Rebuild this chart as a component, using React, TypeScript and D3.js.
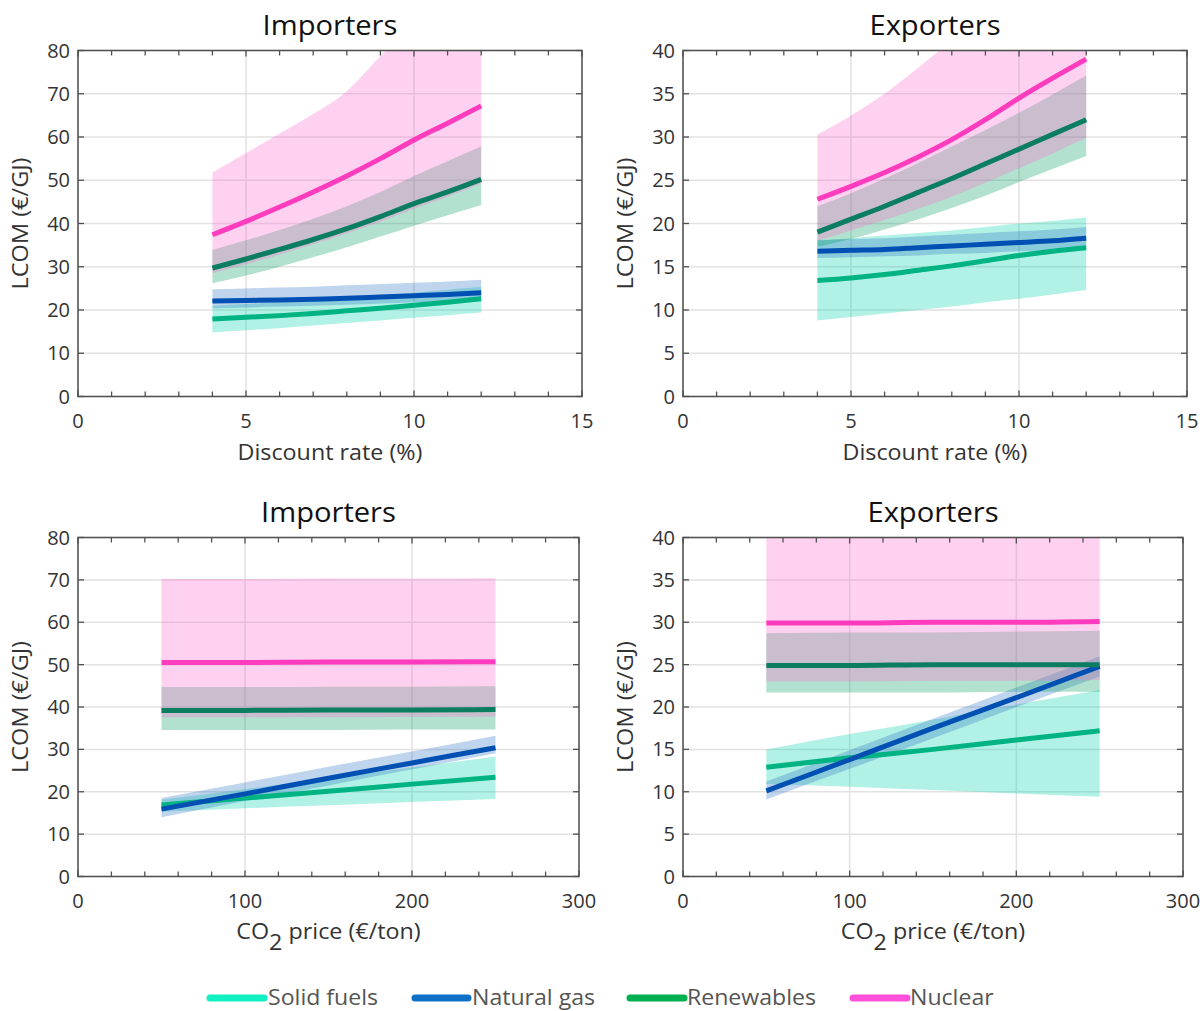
import React from "react";
import * as d3 from "d3";

// ---------- DATA ----------
const discountRates = [4, 5, 6, 7, 8, 9, 10, 11, 12];
const co2Prices = [50, 100, 150, 200, 250];

// Importers vs discount rate
const impSolidDR = [17.9, 18.3, 18.7, 19.2, 19.8, 20.4, 21.1, 21.8, 22.6];
const impSolidDRLo = [14.8, 15.3, 15.8, 16.4, 17.0, 17.6, 18.2, 18.8, 19.4];
const impSolidDRHi = [21.0, 21.4, 21.8, 22.3, 22.8, 23.4, 24.0, 24.7, 25.4];
const impGasDR = [22.1, 22.2, 22.3, 22.5, 22.7, 23.0, 23.3, 23.6, 24.0];
const impGasDRLo = [20.4, 20.6, 20.8, 21.0, 21.2, 21.5, 21.8, 22.1, 22.5];
const impGasDRHi = [24.8, 25.0, 25.2, 25.4, 25.7, 26.0, 26.3, 26.6, 27.0];
const impRenewDR = [29.7, 31.8, 34.0, 36.3, 38.8, 41.6, 44.6, 47.3, 50.2];
const impRenewDRLo = [26.2, 28.0, 30.0, 32.2, 34.5, 37.0, 39.5, 41.9, 44.3];
const impRenewDRHi = [33.9, 36.1, 38.5, 41.1, 44.0, 47.3, 51.0, 54.4, 57.8];
const impNuclearDR = [37.4, 40.5, 43.8, 47.3, 51.0, 55.0, 59.3, 63.2, 67.2];
const impNuclearDRLo = [28.5, 30.6, 32.8, 35.2, 37.7, 40.4, 43.4, 46.2, 49.2];
const impNuclearDRHi = [51.8, 56.3, 60.8, 65.3, 70.6, 78.7, 87.0, 95.0, 103.0];

// Exporters vs discount rate
const expSolidDR = [13.4, 13.7, 14.1, 14.6, 15.1, 15.7, 16.3, 16.8, 17.2];
const expSolidDRLo = [8.8, 9.2, 9.6, 10.0, 10.4, 10.9, 11.3, 11.8, 12.3];
const expSolidDRHi = [18.0, 18.3, 18.6, 18.9, 19.2, 19.6, 20.0, 20.3, 20.7];
const expGasDR = [16.8, 16.9, 17.0, 17.2, 17.4, 17.6, 17.8, 18.0, 18.3];
const expGasDRLo = [16.0, 16.1, 16.2, 16.3, 16.5, 16.6, 16.8, 16.9, 17.1];
const expGasDRHi = [18.1, 18.2, 18.3, 18.5, 18.7, 18.9, 19.1, 19.3, 19.6];
const expRenewDR = [19.0, 20.5, 22.0, 23.6, 25.2, 26.9, 28.6, 30.3, 32.0];
const expRenewDRLo = [17.3, 18.2, 19.3, 20.5, 21.8, 23.2, 24.8, 26.3, 27.8];
const expRenewDRHi = [22.0, 23.5, 25.2, 27.0, 28.9, 30.8, 32.8, 34.9, 37.1];
const expNuclearDR = [22.8, 24.3, 25.9, 27.7, 29.7, 32.0, 34.5, 36.8, 39.0];
const expNuclearDRLo = [18.0, 19.2, 20.4, 21.7, 23.1, 24.7, 26.4, 28.1, 29.9];
const expNuclearDRHi = [30.3, 32.5, 35.0, 38.0, 41.2, 44.5, 48.0, 51.5, 55.0];

// Importers vs CO2 price
const impSolidCO2 = [16.9, 18.5, 20.1, 21.8, 23.4];
const impSolidCO2Lo = [15.3, 16.1, 16.8, 17.6, 18.3];
const impSolidCO2Hi = [18.1, 20.6, 23.2, 25.7, 28.3];
const impGasCO2 = [15.9, 19.5, 23.2, 26.8, 30.4];
const impGasCO2Lo = [14.0, 17.8, 21.5, 25.3, 29.1];
const impGasCO2Hi = [18.5, 22.2, 25.9, 29.5, 33.2];
const impRenewCO2 = [39.2, 39.2, 39.3, 39.3, 39.4];
const impRenewCO2Lo = [34.6, 34.6, 34.6, 34.7, 34.7];
const impRenewCO2Hi = [44.7, 44.7, 44.8, 44.8, 44.9];
const impNuclearCO2 = [50.5, 50.5, 50.6, 50.6, 50.7];
const impNuclearCO2Lo = [37.6, 37.6, 37.6, 37.7, 37.7];
const impNuclearCO2Hi = [70.2, 70.2, 70.3, 70.3, 70.4];

// Exporters vs CO2 price
const expSolidCO2 = [12.9, 14.0, 15.0, 16.1, 17.2];
const expSolidCO2Lo = [10.9, 10.6, 10.2, 9.8, 9.4];
const expSolidCO2Hi = [15.0, 16.8, 18.5, 20.3, 22.0];
const expGasCO2 = [10.1, 13.8, 17.5, 21.1, 24.8];
const expGasCO2Lo = [9.1, 12.7, 16.3, 20.0, 23.6];
const expGasCO2Hi = [11.2, 14.9, 18.6, 22.3, 26.0];
const expRenewCO2 = [24.9, 24.9, 25.0, 25.0, 25.0];
const expRenewCO2Lo = [21.7, 21.7, 21.7, 21.8, 21.8];
const expRenewCO2Hi = [28.7, 28.8, 28.8, 28.9, 29.0];
const expNuclearCO2 = [29.9, 29.9, 30.0, 30.0, 30.1];
const expNuclearCO2Lo = [23.0, 23.0, 23.1, 23.1, 23.2];
const expNuclearCO2Hi = [45.0, 45.0, 45.0, 45.0, 45.0];

const technologies = ["Solid fuels", "Natural gas", "Renewables", "Nuclear"];
const panelTitles = ["Importers", "Exporters", "Importers", "Exporters"];
const discountTicks = [0, 5, 10, 15];
const co2Ticks = [0, 100, 200, 300];

// ---------- STYLE ----------
const lineColors = ["#00b383", "#0050b4", "#0b7d60", "#ff3cbe"];
const bandColors = ["#00d2a8", "#2a72c4", "#00a060", "#ff66cc"];
const legendColors = ["#10f0c0", "#1070c8", "#00b050", "#ff50dc"];
const FONT = "'Open Sans', Lato, sans-serif";

type Series = { xs: number[]; mid: number[]; lo: number[]; hi: number[] };

type PanelCfg = {
  id: string;
  left: number;
  right: number;
  top: number;
  bottom: number;
  xDomain: [number, number];
  xTicks: number[];
  xMinorStep: number;
  yDomain: [number, number];
  yStep: number;
  title: string;
  xLabel: "dr" | "co2";
  series: Series[];
};

function mk(xs: number[], mid: number[], lo: number[], hi: number[]): Series {
  return { xs, mid, lo, hi };
}

const panels: PanelCfg[] = [
  {
    id: "p1", left: 78, right: 582, top: 50.5, bottom: 396.5,
    xDomain: [0, 15], xTicks: discountTicks, xMinorStep: 1,
    yDomain: [0, 80], yStep: 10, title: panelTitles[0], xLabel: "dr",
    series: [
      mk(discountRates, impSolidDR, impSolidDRLo, impSolidDRHi),
      mk(discountRates, impGasDR, impGasDRLo, impGasDRHi),
      mk(discountRates, impRenewDR, impRenewDRLo, impRenewDRHi),
      mk(discountRates, impNuclearDR, impNuclearDRLo, impNuclearDRHi),
    ],
  },
  {
    id: "p2", left: 683, right: 1187, top: 50.5, bottom: 396.5,
    xDomain: [0, 15], xTicks: discountTicks, xMinorStep: 1,
    yDomain: [0, 40], yStep: 5, title: panelTitles[1], xLabel: "dr",
    series: [
      mk(discountRates, expSolidDR, expSolidDRLo, expSolidDRHi),
      mk(discountRates, expGasDR, expGasDRLo, expGasDRHi),
      mk(discountRates, expRenewDR, expRenewDRLo, expRenewDRHi),
      mk(discountRates, expNuclearDR, expNuclearDRLo, expNuclearDRHi),
    ],
  },
  {
    id: "p3", left: 78, right: 579, top: 537.5, bottom: 876.5,
    xDomain: [0, 300], xTicks: co2Ticks, xMinorStep: 20,
    yDomain: [0, 80], yStep: 10, title: panelTitles[2], xLabel: "co2",
    series: [
      mk(co2Prices, impSolidCO2, impSolidCO2Lo, impSolidCO2Hi),
      mk(co2Prices, impGasCO2, impGasCO2Lo, impGasCO2Hi),
      mk(co2Prices, impRenewCO2, impRenewCO2Lo, impRenewCO2Hi),
      mk(co2Prices, impNuclearCO2, impNuclearCO2Lo, impNuclearCO2Hi),
    ],
  },
  {
    id: "p4", left: 683, right: 1183, top: 537.5, bottom: 876.5,
    xDomain: [0, 300], xTicks: co2Ticks, xMinorStep: 20,
    yDomain: [0, 40], yStep: 5, title: panelTitles[3], xLabel: "co2",
    series: [
      mk(co2Prices, expSolidCO2, expSolidCO2Lo, expSolidCO2Hi),
      mk(co2Prices, expGasCO2, expGasCO2Lo, expGasCO2Hi),
      mk(co2Prices, expRenewCO2, expRenewCO2Lo, expRenewCO2Hi),
      mk(co2Prices, expNuclearCO2, expNuclearCO2Lo, expNuclearCO2Hi),
    ],
  },
];

function Panel({ cfg }: { cfg: PanelCfg }) {
  const x = d3.scaleLinear().domain(cfg.xDomain).range([cfg.left, cfg.right]);
  const y = d3.scaleLinear().domain(cfg.yDomain).range([cfg.bottom, cfg.top]);
  const yTicks = d3.range(cfg.yDomain[0], cfg.yDomain[1] + 0.001, cfg.yStep);
  const xMinor = d3.range(cfg.xDomain[0], cfg.xDomain[1] + 0.001, cfg.xMinorStep);
  const cx = (cfg.left + cfg.right) / 2;
  const cy = (cfg.top + cfg.bottom) / 2;
  const clipId = `clip-${cfg.id}`;
  const axisColor = "#505050";
  const gridColor = "#e2e2e2";

  const areaFor = (s: Series) =>
    d3
      .area<number>()
      .x((_, i) => x(s.xs[i]))
      .y0((_, i) => y(s.lo[i]))
      .y1((_, i) => y(s.hi[i]))
      .curve(d3.curveMonotoneX)(s.mid) || "";
  const lineFor = (s: Series) =>
    d3
      .line<number>()
      .x((_, i) => x(s.xs[i]))
      .y((d) => y(d))
      .curve(d3.curveMonotoneX)(s.mid) || "";

  return (
    <g>
      <defs>
        <clipPath id={clipId}>
          <rect x={cfg.left} y={cfg.top} width={cfg.right - cfg.left} height={cfg.bottom - cfg.top} />
        </clipPath>
      </defs>
      {/* grid */}
      {yTicks.map((t) => (
        <line key={"gy" + t} x1={cfg.left} x2={cfg.right} y1={y(t)} y2={y(t)} stroke={gridColor} strokeWidth={1.5} />
      ))}
      {cfg.xTicks.map((t) => (
        <line key={"gx" + t} x1={x(t)} x2={x(t)} y1={cfg.top} y2={cfg.bottom} stroke={gridColor} strokeWidth={1.5} />
      ))}
      {/* bands and lines */}
      <g clipPath={`url(#${clipId})`}>
        {cfg.series.map((s, i) => (
          <path key={"b" + i} d={areaFor(s)} fill={bandColors[i]} fillOpacity={0.3} stroke="none" />
        ))}
        {cfg.series.map((s, i) => (
          <path key={"l" + i} d={lineFor(s)} fill="none" stroke={lineColors[i]} strokeWidth={5} />
        ))}
      </g>
      {/* box */}
      <rect x={cfg.left} y={cfg.top} width={cfg.right - cfg.left} height={cfg.bottom - cfg.top} fill="none" stroke={axisColor} strokeWidth={1.5} />
      {/* minor/major x ticks */}
      {xMinor.map((t) => {
        const major = cfg.xTicks.includes(t);
        const len = major ? 6 : 5;
        return (
          <g key={"xt" + t}>
            <line x1={x(t)} x2={x(t)} y1={cfg.bottom} y2={cfg.bottom - len} stroke={axisColor} strokeWidth={1.3} />
            <line x1={x(t)} x2={x(t)} y1={cfg.top} y2={cfg.top + len} stroke={axisColor} strokeWidth={1.3} />
          </g>
        );
      })}
      {yTicks.map((t) => (
        <g key={"yt" + t}>
          <line x1={cfg.left} x2={cfg.left + 6} y1={y(t)} y2={y(t)} stroke={axisColor} strokeWidth={1.3} />
          <line x1={cfg.right} x2={cfg.right - 6} y1={y(t)} y2={y(t)} stroke={axisColor} strokeWidth={1.3} />
          <text x={cfg.left - 8} y={y(t)} dy="0.35em" textAnchor="end" fontSize={20} fill="#333" fontFamily={FONT}>
            {t}
          </text>
        </g>
      ))}
      {cfg.xTicks.map((t) => (
        <text key={"xl" + t} x={x(t)} y={cfg.bottom + 31} textAnchor="middle" fontSize={20} fill="#333" fontFamily={FONT}>
          {t}
        </text>
      ))}
      {/* title */}
      <text
        transform={`translate(${cx},${cfg.top - 16}) scale(1.04,1)`}
        textAnchor="middle"
        fontSize={28}
        fill="#111"
        fontFamily={FONT}
      >
        {cfg.title}
      </text>
      {/* y label */}
      <text
        transform={`translate(${cfg.left - 50},${cy}) rotate(-90) scale(1.07,1)`}
        textAnchor="middle"
        fontSize={22}
        fill="#333"
        fontFamily={FONT}
      >
        LCOM (€/GJ)
      </text>
      {/* x label */}
      {cfg.xLabel === "dr" ? (
        <text
          transform={`translate(${cx},${cfg.bottom + 63}) scale(1.06,1)`}
          textAnchor="middle"
          fontSize={22}
          fill="#333"
          fontFamily={FONT}
        >
          Discount rate (%)
        </text>
      ) : (
        <text
          transform={`translate(${cx},${cfg.bottom + 62}) scale(1.06,1)`}
          textAnchor="middle"
          fontSize={22}
          fill="#333"
          fontFamily={FONT}
        >
          CO<tspan dy={11}>2</tspan>
          <tspan dy={-11}> price (€/ton)</tspan>
        </text>
      )}
    </g>
  );
}

const legendPos = [
  { x1: 210, x2: 264, tx: 268 },
  { x1: 415, x2: 468, tx: 472 },
  { x1: 630, x2: 684, tx: 687 },
  { x1: 853, x2: 907, tx: 910 },
];

export default function App() {
  return (
    <svg
      width={1202}
      height={1011}
      viewBox="0 0 1202 1011"
      style={{ position: "absolute", left: 0, top: 0, background: "#fff" }}
    >
      <rect x={0} y={0} width={1202} height={1011} fill="#fff" />
      {panels.map((p) => (
        <Panel key={p.id} cfg={p} />
      ))}
      <g>
        {technologies.map((t, i) => (
          <g key={t}>
            <line
              x1={legendPos[i].x1}
              x2={legendPos[i].x2}
              y1={998}
              y2={998}
              stroke={legendColors[i]}
              strokeWidth={7}
              strokeLinecap="round"
            />
            <text
              transform={`translate(${legendPos[i].tx},998) scale(1.1,1)`}
              dy="0.35em"
              fontSize={21}
              fill="#555"
              fontFamily={FONT}
            >
              {t}
            </text>
          </g>
        ))}
      </g>
    </svg>
  );
}
